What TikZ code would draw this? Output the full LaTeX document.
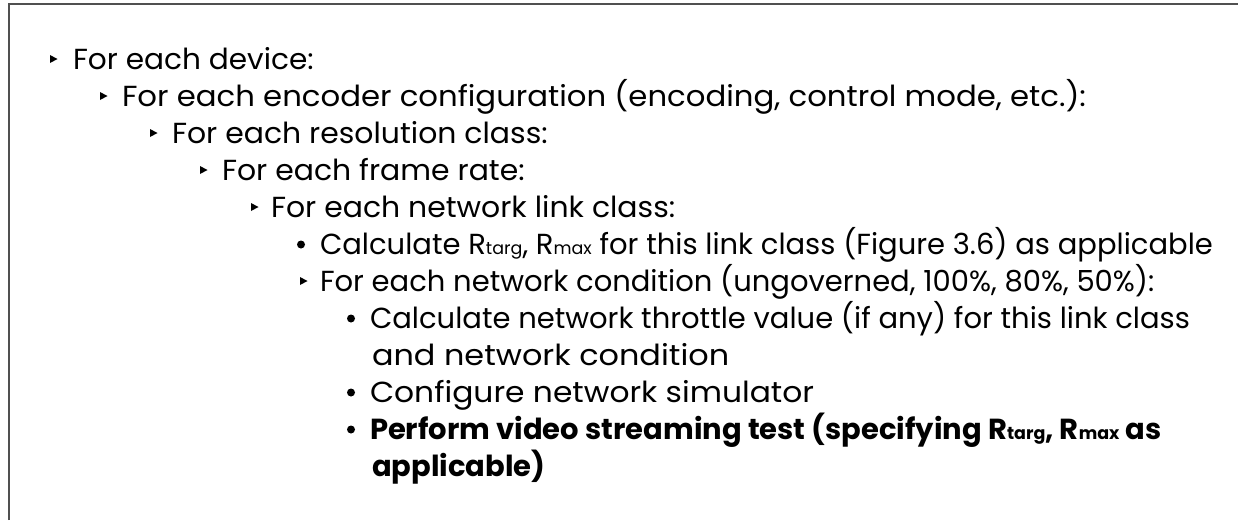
\documentclass[tikz,border=0pt]{standalone}
\usepackage{fontspec}
\setmainfont{Poppins}
\newcommand\smallsub[1]{{\fontsize{17.5}{17.5}\selectfont #1}}
\definecolor{framegray}{RGB}{80,80,80}
\tikzset{
  tribul/.pic={\fill[black] (0,-4) -- (7.5,0) -- (0,4) -- cycle;},
}
\begin{document}
\begin{tikzpicture}[x=1pt,y=-1pt,
  txt/.style={anchor=base west,inner sep=0pt,outer sep=0pt,font=\fontsize{29}{35}\selectfont},
  btxt/.style={txt,font=\fontsize{29}{35}\selectfont\bfseries},
  wide/.style={xscale=#1,transform shape},
  dot/.style={circle,fill=black,inner sep=0pt,minimum size=8pt},
  frame/.style={draw=framegray,line width=1.6pt}]
\useasboundingbox (0,0) rectangle (1238,520);
\draw[frame] (9,520) -- (9,4) -- (1238,4);
% level 1
\pic at (50,59) {tribul};
\node[txt,wide=1.02] (l1) at (73,69) {For each device:};
\pic at (100,96) {tribul};
\node[txt,wide=1.06] (l2) at (122,106) {For each encoder configuration (encoding, control mode, etc.):};
\pic at (150,133) {tribul};
\node[txt,wide=1.03] (l3) at (172,143) {For each resolution class:};
\pic at (200,170) {tribul};
\node[txt,wide=1.03] (l4) at (222,180) {For each frame rate:};
\pic at (251,207) {tribul};
\node[txt,wide=1.03] (l5) at (271,217) {For each network link class:};
\node[dot] (b6) at (301,244.5) {};
\node[txt] (l6) at (320,254) {Calculate R\smallsub{targ}, R\smallsub{max} for this link class (Figure 3.6) as applicable};
\pic at (300,281) {tribul};
\node[txt] (l7) at (320,291) {For each network condition (ungoverned, 100\%, 80\%, 50\%):};
\node[dot] (b8) at (351,318.5) {};
\node[txt] (l8) at (370,328) {Calculate network throttle value (if any) for this link class};
\node[txt,wide=1.1] (l9) at (372,365) {and network condition};
\node[dot] (b10) at (351,392.5) {};
\node[txt,wide=1.08] (l10) at (370,402) {Configure network simulator};
\node[dot] (b11) at (351,429.5) {};
\node[btxt] (l11) at (370,439) {Perform video streaming test (specifying R\smallsub{targ}, R\smallsub{max} as};
\node[btxt] (l12) at (372,476) {applicable)};
\end{tikzpicture}
\end{document}
